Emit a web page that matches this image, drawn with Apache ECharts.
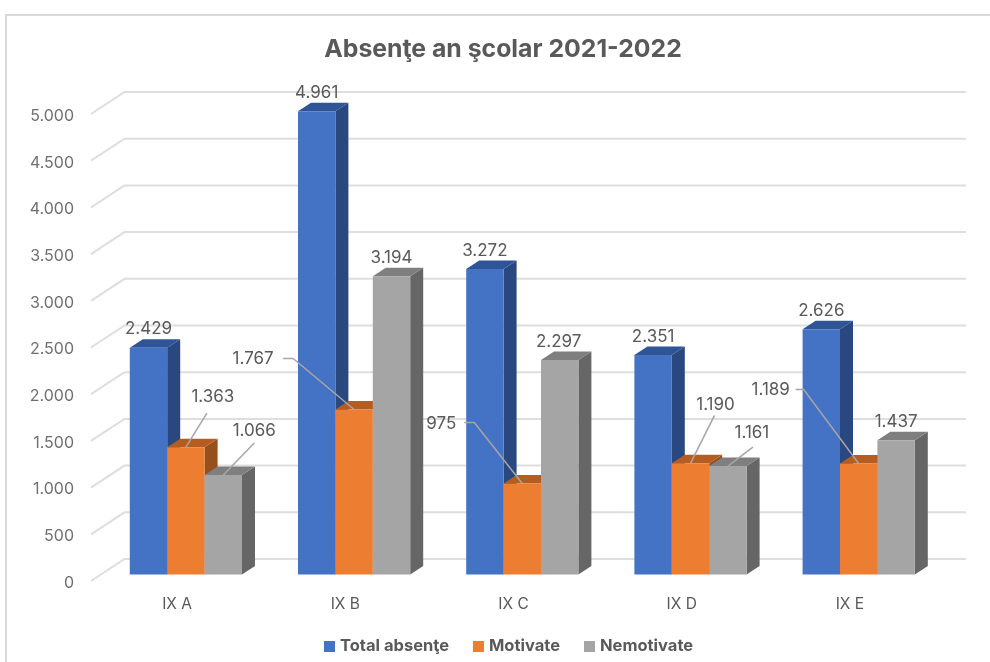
<!DOCTYPE html>
<html>
<head>
<meta charset="utf-8">
<title>Absenţe an şcolar 2021-2022</title>
<script src="https://cdn.jsdelivr.net/npm/echarts@6/dist/echarts.min.js"></script>
<style>
html, body { margin: 0; padding: 0; background: #fff; }
#chart { width: 990px; height: 662px; }
</style>
</head>
<body>
<div id="chart"></div>
<script>
const categories = ['IX A', 'IX B', 'IX C', 'IX D', 'IX E']
const totalAbsente = [2429, 4961, 3272, 2351, 2626]
const motivate = [1363, 1767, 975, 1190, 1189]
const nemotivate = [1066, 3194, 2297, 1161, 1437]
const yTicks = [0, 500, 1000, 1500, 2000, 2500, 3000, 3500, 4000, 4500, 5000]

const font = 'Inter, "Open Sans", sans-serif'
const textColor = '#595959'

// 3d look: how far the back of a bar sits from its front, in px
const depthX = 13
const depthY = -8.5
const wallX = 31.5
const wallY = -22
const wallShift = -2 // tick labels sit a bit under the start of the wall lines
const barShift = -8.5
const barWidth = 37.4

const fmt = v => String(v).replace(/\B(?=(\d{3})+$)/g, '.')

// label position against the middle of the bar's front top edge, leader points the same way
const dflt = { at: [0, -18.5] }
const totalLabels = [dflt, dflt, dflt, dflt, dflt]
const motivateLabels = [
    { at: [27, -50], line: [[0, 0], [21, -34]] },
    { at: [-101, -51], line: [[0, 0], [-61, -51], [-71, -51]] },
    { at: [-81, -60], line: [[0, 0], [-48, -61], [-58, -61]] },
    { at: [25, -58], line: [[0, 0], [24, -48]] },
    { at: [-88, -74], line: [[0, 0], [-55, -74], [-63, -74]] }
]
const nemotivateLabels = [
    { at: [31, -44], line: [[0, 0], [31, -32]] },
    dflt,
    { at: [-1, -18.5] },
    { at: [24, -33], line: [[0, 0], [25, -19]] },
    dflt
]

const barSeries = (name, values, labels, index, front, top, side) => ({
    name: name,
    type: 'custom',
    coordinateSystem: 'cartesian2d',
    data: values.map((v, i) => [i, v]),
    itemStyle: { color: front },
    encode: { x: 0, y: 1 },
    renderItem: (params, api) => {
        const base = api.coord([api.value(0), 0])
        const head = api.coord([api.value(0), api.value(1)])
        const band = api.size([1, 0])[0]
        const x0 = base[0] - band / 2 + 36.8 + index * barWidth
        const x1 = x0 + barWidth
        const y0 = base[1] + barShift
        const y1 = head[1] + barShift
        const mid = x0 + barWidth / 2
        const lab = labels[params.dataIndex]
        const children = [
            { type: 'polygon', shape: { points: [[x1, y0], [x1 + depthX, y0 + depthY], [x1 + depthX, y1 + depthY], [x1, y1]] }, style: { fill: side } },
            { type: 'polygon', shape: { points: [[x0, y1], [x0 + depthX, y1 + depthY], [x1 + depthX, y1 + depthY], [x1, y1]] }, style: { fill: top } },
            { type: 'rect', shape: { x: x0, y: y1, width: barWidth, height: y0 - y1 }, style: { fill: front } },
            {
                type: 'text', z2: 200,
                style: {
                    x: mid + lab.at[0], y: y1 + lab.at[1],
                    text: fmt(api.value(1)),
                    align: 'center', verticalAlign: 'middle',
                    fill: textColor, font: '17px ' + font
                }
            }
        ]
        if (lab.line) {
            children.push({
                type: 'polyline', z2: 150,
                shape: { points: lab.line.map(p => [mid + p[0], y1 + p[1]]) },
                style: { fill: 'none', stroke: '#a6a6a6', lineWidth: 1.5 }
            })
        }
        return { type: 'group', children: children }
    }
})

const wallSeries = {
    type: 'custom',
    coordinateSystem: 'cartesian2d',
    silent: true,
    z: 1,
    data: yTicks.map(t => [0, t]),
    encode: { x: 0, y: 1 },
    renderItem: (params, api) => {
        const y = api.coord([0, api.value(1)])[1] + wallShift
        const x = params.coordSys.x
        return {
            type: 'polyline',
            shape: { points: [[x - 2, y], [x + wallX, y + wallY], [966, y + wallY]] },
            style: { fill: 'none', stroke: '#dedede', lineWidth: 2 }
        }
    }
}

const chart = echarts.init(document.getElementById('chart'), null, { renderer: 'canvas' })
chart.setOption({
    backgroundColor: '#fff',
    animation: false,
    graphic: [{
        type: 'rect',
        silent: true,
        shape: { x: 6, y: 15, width: 1000, height: 700 },
        style: { fill: 'none', stroke: '#d9d9d9', lineWidth: 2 }
    }],
    title: {
        text: 'Absenţe an şcolar 2021-2022',
        left: 498,
        top: 32,
        textAlign: 'center',
        textStyle: { fontFamily: font, fontSize: 24.8, fontWeight: 'bold', color: textColor }
    },
    legend: {
        data: ['Total absenţe', 'Motivate', 'Nemotivate'],
        left: 319,
        top: 633,
        itemWidth: 11,
        itemHeight: 11,
        itemGap: 24,
        icon: 'rect',
        textStyle: { fontFamily: font, fontSize: 16.5, fontWeight: 'bold', color: textColor }
    },
    grid: { left: 93, top: 116, width: 841, height: 467 },
    xAxis: {
        type: 'category',
        data: categories,
        axisLine: { show: false },
        axisTick: { show: false },
        axisLabel: { fontFamily: font, fontSize: 15.5, color: textColor, margin: 13 }
    },
    yAxis: {
        type: 'value',
        min: 0,
        max: 5000,
        interval: 500,
        axisLine: { show: false },
        axisTick: { show: false },
        splitLine: { show: false },
        axisLabel: { fontFamily: font, fontSize: 16, color: '#6f6f6f', margin: 19, formatter: v => fmt(v) }
    },
    series: [
        wallSeries,
        barSeries('Total absenţe', totalAbsente, totalLabels, 0, '#4472c4', '#2f5597', '#2a4880'),
        barSeries('Motivate', motivate, motivateLabels, 1, '#ed7d31', '#b55d21', '#97501b'),
        barSeries('Nemotivate', nemotivate, nemotivateLabels, 2, '#a5a5a5', '#7f7f7f', '#666666')
    ]
})
</script>
</body>
</html>
